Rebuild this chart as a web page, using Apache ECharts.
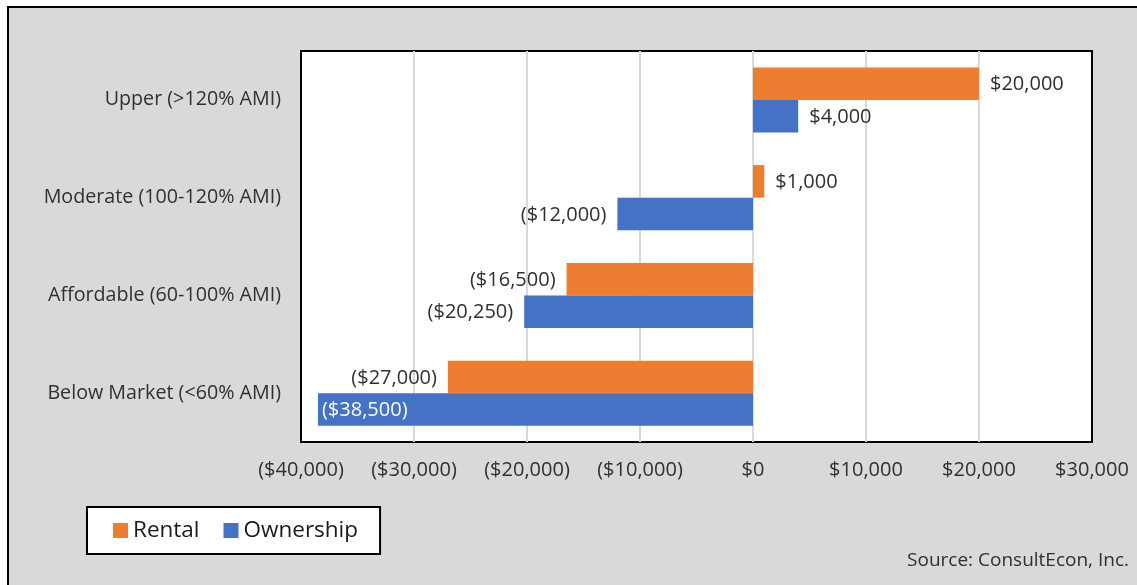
<!DOCTYPE html>
<html>
<head>
<meta charset="utf-8">
<script src="https://cdn.jsdelivr.net/npm/echarts@6/dist/echarts.min.js"></script>
<style>
  html, body { margin: 0; padding: 0; background: #ffffff; overflow: hidden; }
  #frame {
    position: absolute; left: 7px; top: 6px; width: 1150px; height: 600px;
    background: #d9d9d9; border-left: 2px solid #000; border-top: 2px solid #000;
  }
  #chart { position: absolute; left: 0; top: 0; width: 1137px; height: 585px; }
</style>
</head>
<body>
<div id="frame"></div>
<div id="chart"></div>
<script>
// Income tiers, listed top to bottom
const categories = [
  'Upper (>120% AMI)',
  'Moderate (100-120% AMI)',
  'Affordable (60-100% AMI)',
  'Below Market (<60% AMI)'
];
const rentalValues = [20000, 1000, -16500, -27000];
const ownershipValues = [4000, -12000, -20250, -38500];
const axisTicks = { min: -40000, max: 30000, step: 10000 };

const FONT = 'Open Sans';
const TEXT = '#303030';
const ORANGE = '#ED7D31';
const BLUE = '#4472C4';

function money(v) {
  const s = '$' + Math.abs(v).toLocaleString('en-US');
  return v < 0 ? '(' + s + ')' : s;
}

// Positive values labelled past the bar end, negative ones before it;
// a bar long enough to reach the left edge carries its label inside.
function withLabels(values) {
  return values.map(v => {
    const inside = v <= -35000;
    return {
      value: v,
      label: inside
        ? { position: 'insideLeft', distance: 4, color: '#ffffff' }
        : { position: v >= 0 ? 'right' : 'left', distance: 11, color: TEXT }
    };
  });
}

const labelBase = {
  show: true,
  fontFamily: FONT,
  fontSize: 20,
  offset: [0, 1],
  formatter: p => money(p.value)
};

const chart = echarts.init(document.getElementById('chart'), null, { renderer: 'canvas' });
chart.setOption({
  backgroundColor: 'transparent',
  animation: false,
  textStyle: { fontFamily: FONT, color: TEXT },
  grid: {
    left: 301, top: 51, right: 45, bottom: 143,
    show: true, backgroundColor: '#ffffff', borderColor: '#000000', borderWidth: 2
  },
  legend: {
    left: 87, top: 507,
    padding: [12, 22, 12, 26],
    backgroundColor: '#ffffff', borderColor: '#000000', borderWidth: 2,
    itemWidth: 15, itemHeight: 15, itemGap: 24,
    icon: 'rect',
    textStyle: { fontFamily: FONT, fontSize: 22.5, color: '#1a1a1a' },
    data: ['Rental', 'Ownership']
  },
  xAxis: {
    type: 'value',
    min: axisTicks.min, max: axisTicks.max, interval: axisTicks.step,
    axisLine: { show: false },
    axisTick: { show: false },
    splitLine: {
      show: true, showMinLine: false, showMaxLine: false,
      lineStyle: { color: '#d9d9d9', width: 2 }
    },
    axisLabel: {
      margin: 18, fontFamily: FONT, fontSize: 20, color: TEXT,
      formatter: v => money(v)
    }
  },
  yAxis: {
    type: 'category',
    inverse: true,
    data: categories,
    axisLine: { show: false },
    axisTick: { show: false },
    splitLine: { show: false },
    axisLabel: { margin: 20, fontFamily: FONT, fontSize: 19.7, color: TEXT }
  },
  series: [
    {
      name: 'Rental', type: 'bar', barWidth: 32.5, barGap: '0%',
      itemStyle: { color: ORANGE },
      label: labelBase,
      data: withLabels(rentalValues)
    },
    {
      name: 'Ownership', type: 'bar', barWidth: 32.5, barGap: '0%',
      itemStyle: { color: BLUE },
      label: labelBase,
      data: withLabels(ownershipValues)
    }
  ],
  graphic: [
    {
      type: 'text', right: 8, top: 551,
      style: { text: 'Source: ConsultEcon, Inc.', font: '19px "Open Sans"', fill: TEXT }
    }
  ]
});
</script>
</body>
</html>
